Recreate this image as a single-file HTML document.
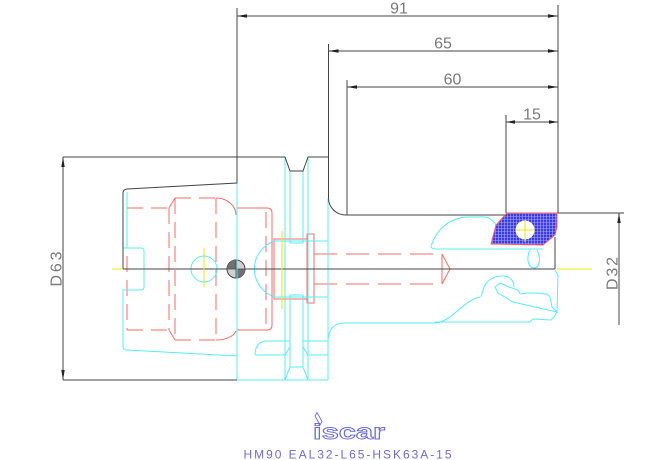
<!DOCTYPE html>
<html>
<head>
<meta charset="utf-8">
<style>
html,body{margin:0;padding:0;background:#fff;}
svg{display:block;}
.d{stroke:#454545;fill:none;stroke-width:1;}
.c{stroke:#55eef4;fill:none;stroke-width:1;}
.r{stroke:#ff6a6a;fill:none;stroke-width:1;}
.rd{stroke:#ff6a6a;fill:none;stroke-width:1;stroke-dasharray:16 8;}
.rd2{stroke:#ff6a6a;fill:none;stroke-width:1;stroke-dasharray:23 9;}
.y{stroke:#e8e800;fill:none;stroke-width:1;}
.a{fill:#222;stroke:none;}
.t{font-family:"Liberation Sans",sans-serif;font-size:16px;fill:#7a7a7a;}
</style>
</head>
<body>
<svg width="670" height="460" viewBox="0 0 670 460" xmlns="http://www.w3.org/2000/svg">
<defs>
<pattern id="h" width="3" height="3" patternUnits="userSpaceOnUse">
<rect width="3" height="3" fill="#3a3ae6"/>
<path d="M0,0.5H3M0.5,0V3" stroke="#a8a8ff" stroke-width="0.6"/>
</pattern>
</defs>
<rect width="670" height="460" fill="#fff"/>

<!-- extension lines -->
<path class="d" d="M237,8V157 M328.5,44V157 M347,80V215 M506,115V213 M558,5V213 M558,213H624"/>
<!-- dimension lines -->
<path class="d" d="M237,16H558 M328.5,51H558 M347,87H558 M506,122H558 M63,157V380 M619,213V325"/>
<!-- arrows -->
<polygon class="a" points="237,16 247,14.3 247,17.7"/>
<polygon class="a" points="558,16 548,14.3 548,17.7"/>
<polygon class="a" points="328.5,51 338.5,49.3 338.5,52.7"/>
<polygon class="a" points="558,51 548,49.3 548,52.7"/>
<polygon class="a" points="347,87 357,85.3 357,88.7"/>
<polygon class="a" points="558,87 548,85.3 548,88.7"/>
<polygon class="a" points="506,122 515,120.3 515,123.7"/>
<polygon class="a" points="558,122 549,120.3 549,123.7"/>
<polygon class="a" points="63,157 61.3,167 64.7,167"/>
<polygon class="a" points="63,380 61.3,370 64.7,370"/>
<polygon class="a" points="619,213 617.3,223 620.7,223"/>

<!-- dimension text -->
<text class="t" x="399" y="13.5" text-anchor="middle">91</text>
<text class="t" x="443" y="48.5" text-anchor="middle">65</text>
<text class="t" x="452.5" y="84.5" text-anchor="middle">60</text>
<text class="t" x="532" y="119.5" text-anchor="middle">15</text>
<text class="t" transform="translate(61.5,269) rotate(-90)" text-anchor="middle" textLength="35" lengthAdjust="spacing">D63</text>
<text class="t" transform="translate(617.5,273.5) rotate(-90)" text-anchor="middle" textLength="33" lengthAdjust="spacing">D32</text>

<!-- red hidden lines (left) -->
<path class="rd" d="M127,208H169 M127,330H169 M175,198H216 M175,340H216 M127,208V330 M169,208V330 M175,198V340 M216,198V340 M266,212V328"/>
<path class="r" d="M169,208L175,198 M169,330L175,340 M216,198A20,17 0 0 1 236,215 M216,340A20,12 0 0 0 236,331"/>
<path class="r" d="M237,208H267Q272,208 272,213V325Q272,330 267,330H237"/>
<path class="r" d="M274,239H307V299H274Z M307,234H314V303H307Z"/>
<path class="rd2" d="M314,254H442 M314,284H442"/>
<path class="r" d="M442,254L450,269L442,284Z"/>

<!-- cyan outlines -->
<path class="c" d="M237,183V380H328"/>
<path class="c" d="M127,192V248 M123,248H141Q144,248 144,251V287Q144,290 141,290H123V347Q123,350 127,350L237,356"/>
<path class="c" d="M285,157V380 M290,171V243H303V171 M308,157V380 M290,295H303 M290,295V367H303V295"/>
<path class="c" d="M290,347L285,355 M290,367L285,380 M303,347L308,355 M303,367L308,380"/>
<path class="c" d="M255,355H285 M308,355H328 M265,341H290 M303,341H328 M265,341Q255,343 255,355"/>
<path class="c" d="M328,198V380 M275,241H328 M275,297H328 M275,241A29.3,29.3 0 0 0 275,297"/>
<path class="c" d="M328,340Q329,323 345,323H435C452,322 462,301 480,297"/>
<path class="c" d="M435,322H530L533,319L551,320L554,317L557,312L558,275L555,270"/>
<path class="c" d="M431,246C436,232 446,219 466,217H480C488,216 493,220 496,225 M431,246Q431,249 436,249H543"/>
<path class="c" d="M530,250C526,258 528,268 534,268C540,268 541,258 537,250"/>
<path class="c" d="M481,297L484,287C487,280 494,276 503,276C510,276 514,281 514,287"/>
<path class="c" d="M495,287L500,283L509,287L518,290L520,294L528,293L535,293L547,294L550,297L552,307L557,312L513,302L498,293Z"/>
<circle class="c" cx="204" cy="269" r="13"/>

<!-- dark outline -->
<path class="d" d="M63,157H285L290,171H303L308,157H328.5V198A17,17 0 0 0 345.5,215H507"/>
<path class="d" d="M237,157V183L127,189Q123,189.5 123,193V269"/>
<path class="d" d="M63,380H237"/>
<path class="d" d="M123,269H555 M555,237V269"/>

<!-- insert -->
<polygon points="496,225 507,213 557,213 557,227 555,235 543,245 491,244" fill="url(#h)" stroke="#ff5a5a" stroke-width="1"/>
<circle cx="525" cy="230" r="9.5" fill="#fff"/>
<path class="y" d="M516,230H535 M525,220V242"/>

<!-- yellow center marks -->
<path class="y" d="M204,248V287 M282,231V309 M112,269H123 M557,269H592"/>

<!-- center of gravity symbol -->
<circle cx="236" cy="269" r="9" fill="#d0d0d0" stroke="#444" stroke-width="1"/>
<path d="M236,269L236,260A9,9 0 0 0 227,269Z M236,269L245,269A9,9 0 0 1 236,278Z" fill="#707070"/>
<path d="M227,269H245 M236,260V278" stroke="#444" stroke-width="0.8"/>
<path class="c" d="M237,258V280"/>

<!-- logo -->
<polygon points="315,416 317,412.5 322,421.5 320,425" fill="none" stroke="#6a6ae2" stroke-width="0.9"/>
<text x="313" y="439" font-family="Liberation Sans, sans-serif" font-weight="bold" font-size="21" textLength="72" lengthAdjust="spacingAndGlyphs" fill="#fff" stroke="#6a6ae2" stroke-width="0.9">iscar</text>

<!-- title -->
<text x="243.5" y="458.5" font-family="Liberation Sans, sans-serif" font-size="12" fill="#6b6bdf" textLength="208" lengthAdjust="spacing">HM90 EAL32-L65-HSK63A-15</text>
</svg>
</body>
</html>
